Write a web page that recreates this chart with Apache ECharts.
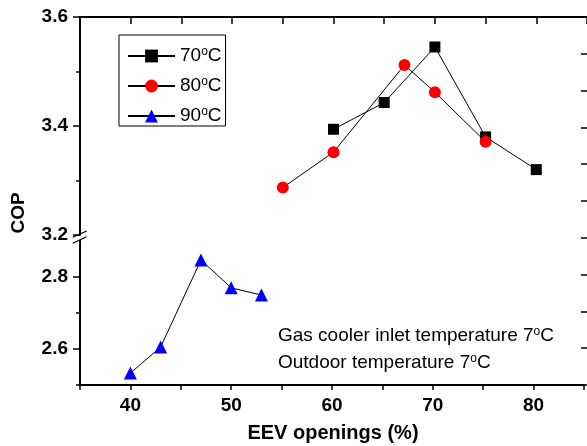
<!DOCTYPE html>
<html>
<head>
<meta charset="utf-8">
<script src="https://cdn.jsdelivr.net/npm/echarts@6/dist/echarts.min.js"></script>
<style>
html,body{margin:0;padding:0;background:#fff;}
#c{width:587px;height:446px;}
</style>
</head>
<body>
<div id="c"></div>
<script>
// ---- data ----
const seriesNames = ['70°C', '80°C', '90°C'];
const x70 = [60, 65, 70, 75, 80];
const cop70 = [3.394, 3.443, 3.545, 3.380, 3.320];
const x80 = [55, 60, 67, 70, 75];
const cop80 = [3.287, 3.352, 3.512, 3.462, 3.371];
const x90 = [40, 43, 47, 50, 53];
const cop90 = [2.533, 2.605, 2.846, 2.769, 2.749];
const xTickLabels = [40, 50, 60, 70, 80];
const upperYLabels = [3.2, 3.4, 3.6];
const lowerYLabels = [2.6, 2.8];
const lowerYMinor = [2.5, 2.7];
const xTitle = 'EEV openings (%)';
const yTitle = 'COP';
const note1 = 'Gas cooler inlet temperature 7°C';
const note2 = 'Outdoor temperature 7°C';

const FONT = '"Liberation Sans", Arial, sans-serif';
const pair = (xs, ys) => xs.map((v, i) => [v, ys[i]]);
// render "°" as a superscript "o" using rich text
const supRich = s => s.split('°').map(p => '{n|' + p + '}').join('{s|o}');

const chart = echarts.init(document.getElementById('c'), null, {renderer: 'canvas'});
const axisLine = {show: true, lineStyle: {color: '#000', width: 2}};
const tickStyle = {color: '#000', width: 1.5};
const labelStyle = {color: '#000', fontFamily: FONT, fontWeight: 'bold', fontSize: 19};
const richNorm = {
  n: {fontFamily: FONT, fontSize: 19, color: '#000', lineHeight: 20},
  s: {fontFamily: FONT, fontSize: 12, color: '#000', lineHeight: 12, verticalAlign: 'top'}
};

const option = {
  animation: false,
  backgroundColor: '#fff',
  grid: [
    {left: 80, top: 17, width: 508.5, height: 218},
    {left: 80, top: 240.5, width: 508.5, height: 144.5},
    {left: 80, top: 17, width: 508.5, height: 368}
  ],
  xAxis: [
    {gridIndex: 0, type: 'value', min: 35, max: 85, show: false},
    {gridIndex: 1, type: 'value', min: 35, max: 85, interval: 5, position: 'bottom',
      axisLine: axisLine,
      axisTick: {show: true, inside: false, length: 5, lineStyle: tickStyle},
      axisLabel: Object.assign({margin: 11, formatter: v => xTickLabels.indexOf(v) >= 0 ? String(v) : ''}, labelStyle),
      splitLine: {show: false}},
    {gridIndex: 0, type: 'value', min: 35, max: 85, interval: 5, position: 'top',
      axisLine: axisLine,
      axisTick: {show: true, inside: true, length: 7, lineStyle: tickStyle},
      axisLabel: {show: false}, splitLine: {show: false}},
    {gridIndex: 2, type: 'value', min: 35, max: 85, show: false}
  ],
  yAxis: [
    {gridIndex: 0, type: 'value', min: 3.2, max: 3.6, interval: 0.2, position: 'left',
      axisLine: axisLine,
      axisTick: {show: true, inside: false, length: 7, lineStyle: tickStyle},
      minorTick: {show: true, splitNumber: 2, length: 4, lineStyle: tickStyle},
      axisLabel: Object.assign({margin: 12, formatter: v => upperYLabels.some(u => Math.abs(u - v) < 1e-6) ? v.toFixed(1) : ''}, labelStyle),
      splitLine: {show: false}, minorSplitLine: {show: false}},
    {gridIndex: 1, type: 'value', min: 2.5, max: 2.9, position: 'left',
      axisLine: axisLine,
      axisTick: {show: true, inside: false, length: 7, lineStyle: tickStyle, customValues: lowerYLabels},
      axisLabel: Object.assign({margin: 12, customValues: lowerYLabels, formatter: v => v.toFixed(1)}, labelStyle),
      splitLine: {show: false}},
    {gridIndex: 1, type: 'value', min: 2.5, max: 2.9, position: 'left',
      axisLine: {show: false},
      axisTick: {show: true, inside: false, length: 4, lineStyle: tickStyle, customValues: lowerYMinor},
      axisLabel: {show: false}, splitLine: {show: false}},
    {gridIndex: 2, type: 'value', min: 0, max: 10, interval: 1, position: 'right',
      axisLine: {show: false},
      axisTick: {show: true, inside: true, length: 6, lineStyle: tickStyle},
      axisLabel: {show: false}, splitLine: {show: false}}
  ],
  legend: {
    orient: 'vertical', left: 119, top: 35,
    padding: [11, 4, 0, 8],
    itemWidth: 47, itemHeight: 16, itemGap: 10,
    borderColor: '#000', borderWidth: 1,
    formatter: name => supRich(name),
    textStyle: {color: '#000', fontFamily: FONT, fontSize: 19, lineHeight: 20, rich: richNorm},
    data: seriesNames
  },
  series: [
    {name: seriesNames[0], type: 'line', xAxisIndex: 0, yAxisIndex: 0,
      data: pair(x70, cop70), symbol: 'rect', symbolSize: 11,
      lineStyle: {color: '#000', width: 1}, itemStyle: {color: '#000'}},
    {name: seriesNames[1], type: 'line', xAxisIndex: 0, yAxisIndex: 0,
      data: pair(x80, cop80), symbol: 'circle', symbolSize: 12,
      lineStyle: {color: '#000', width: 1}, itemStyle: {color: '#ff0000'}},
    {name: seriesNames[2], type: 'line', xAxisIndex: 1, yAxisIndex: 1,
      data: pair(x90, cop90), symbol: 'triangle', symbolSize: 13,
      lineStyle: {color: '#000', width: 1}, itemStyle: {color: '#0000ff'}}
  ],
  graphic: [
    {type: 'line', shape: {x1: 72.7, y1: 237.3, x2: 86.7, y2: 231}, style: {stroke: '#000', lineWidth: 1.2}},
    {type: 'line', shape: {x1: 72.7, y1: 243.3, x2: 86.7, y2: 236.7}, style: {stroke: '#000', lineWidth: 1.2}},
    {type: 'text', x: 18.5, y: 213, rotation: Math.PI / 2,
      style: {text: yTitle, x: 0, y: 0, align: 'center', verticalAlign: 'middle', fill: '#000', font: 'bold 19px ' + FONT}},
    {type: 'text', x: 333, y: 433,
      style: {text: xTitle, x: 0, y: 0, align: 'center', verticalAlign: 'middle', fill: '#000', font: 'bold 20px ' + FONT}},
    {type: 'text', x: 278, y: 336,
      style: {text: supRich(note1), rich: richNorm, x: 0, y: 0, align: 'left', verticalAlign: 'middle', fill: '#000', font: '19px ' + FONT}},
    {type: 'text', x: 278, y: 362.5,
      style: {text: supRich(note2), rich: richNorm, x: 0, y: 0, align: 'left', verticalAlign: 'middle', fill: '#000', font: '19px ' + FONT}}
  ]
};
chart.setOption(option);
</script>
</body>
</html>
